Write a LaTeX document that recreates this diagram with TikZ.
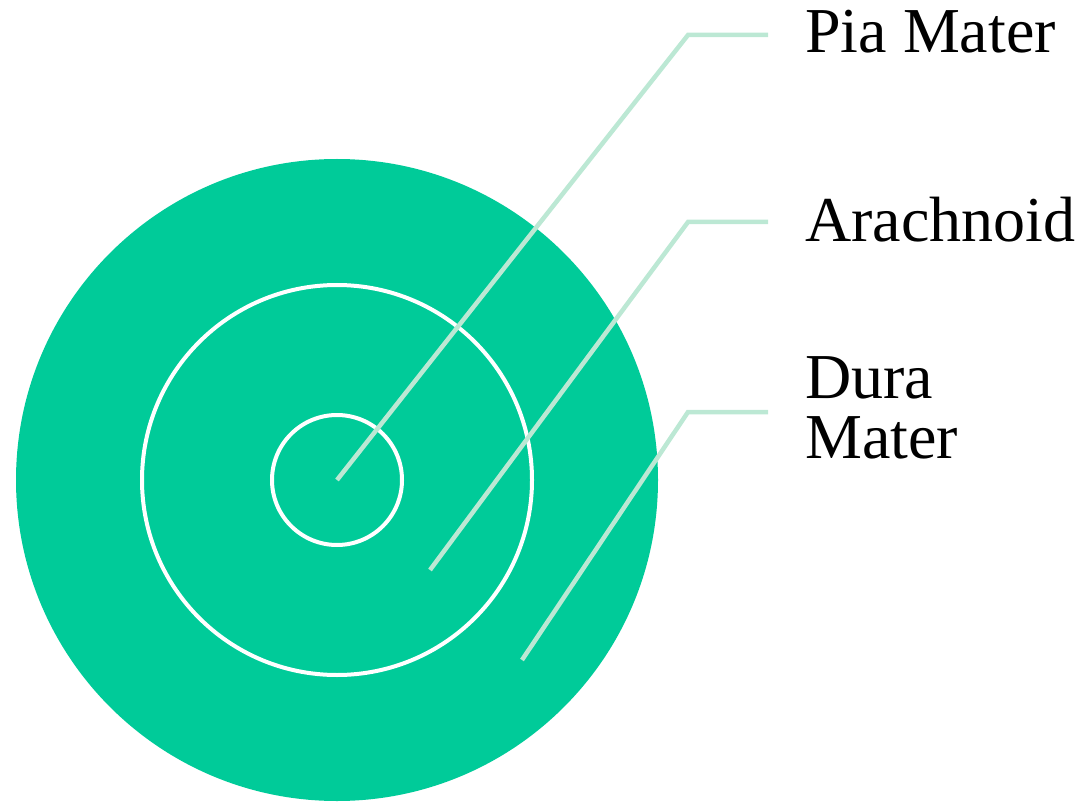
\documentclass[tikz,border=0pt]{standalone}
\usepackage{fontspec}
\setmainfont{Liberation Serif}
\definecolor{MeningeGreen}{RGB}{0,203,153}
\definecolor{LeaderMint}{RGB}{188,232,212}
\usetikzlibrary{positioning,calc}

\begin{document}
\begin{tikzpicture}[x=1pt, y=-1pt,
      every node/.style={font=\fontsize{64}{60}\selectfont, inner sep=0pt, align=left},
      layer/.style={fill=MeningeGreen},
      ring/.style={draw=white, line width=4pt},
      lead/.style={draw=LeaderMint, line width=4.5pt, line join=miter},
      tag/.style={anchor=base west}
  ]
    \useasboundingbox (0,0) rectangle (1081,802);
    % membranes
    \coordinate (c) at (337,480);
    \fill[layer] (c) circle (321);
    \draw[ring] (c) circle (195);
    \draw[ring] (c) circle (65);
    % labels
    \node[tag] (pia) at (805,53) {Pia Mater};
    \node[tag] (arach) at (805,242) {Arachnoid};
    \node[tag] (dura) at (805,458) {Dura\\Mater};
    % leader ends
    \coordinate (piaend) at (768,35);
    \coordinate (arachend) at (768,222);
    \coordinate (duraend) at (768,412);
    \coordinate (piaknee) at (688,35);
    \coordinate (arachknee) at (688,222);
    \coordinate (duraknee) at (688,412);
    \coordinate (piain) at (337,480);
    \coordinate (arachin) at (430,570);
    \coordinate (durain) at (522,660);
    \draw[lead] (piain) -- (piaknee) -- (piaend);
    \draw[lead] (arachin) -- (arachknee) -- (arachend);
    \draw[lead] (durain) -- (duraknee) -- (duraend);
  \end{tikzpicture}
\end{document}
